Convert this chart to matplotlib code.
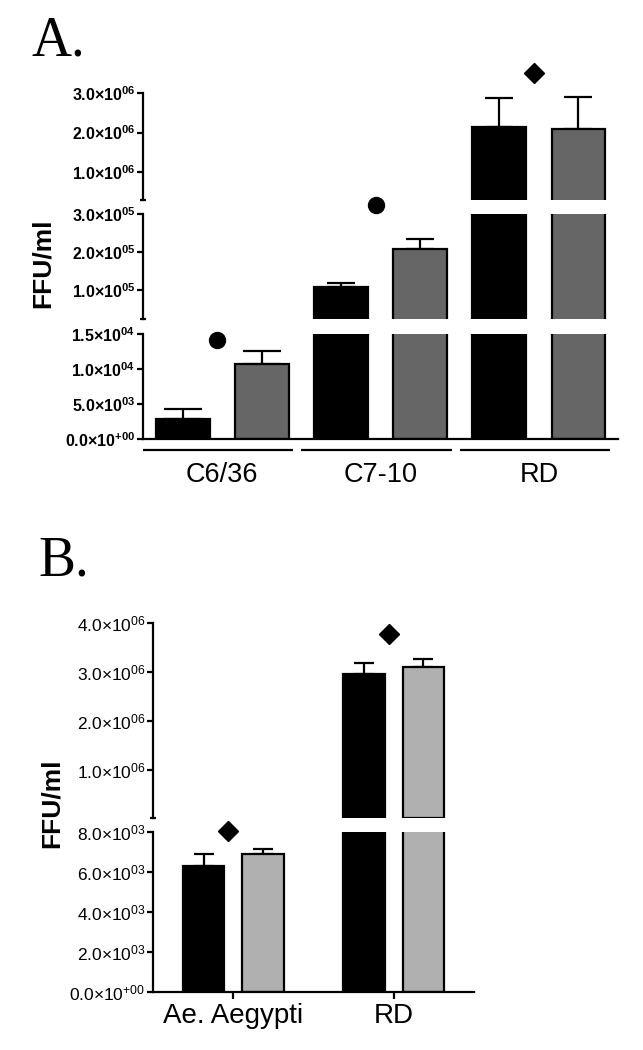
import matplotlib
matplotlib.use('Agg')
import matplotlib.pyplot as plt
import numpy as np
from matplotlib.transforms import blended_transform_factory

plt.rcParams['font.family'] = ['Liberation Sans', 'DejaVu Sans']
plt.rcParams['mathtext.fontset'] = 'custom'
plt.rcParams['mathtext.rm'] = 'Liberation Sans'
plt.rcParams['mathtext.bf'] = 'Liberation Sans:bold'
plt.rcParams['mathtext.it'] = 'Liberation Sans:italic'

# ---------------- data ----------------
# Panel A
a_cells = ['C6/36', 'C7-10', 'RD']
a_black = [2.86e3, 1.08e5, 2.14e6]
a_black_err = [1.45e3, 0.12e5, 0.73e6]
a_gray = [1.07e4, 2.08e5, 2.09e6]
a_gray_err = [0.19e4, 0.26e5, 0.81e6]
a_sig_marker = ['o', 'o', 'D']
a_sig_y = [1.42e4, 3.24e5, 3.5e6]
a_sig_seg = [0, 1, 2]
a_seg_lims = [(0, 1.5e4), (2.5e4, 3.0e5), (3.0e5, 3.0e6)]
a_seg_ticks = [[0, 5e3, 1e4, 1.5e4], [1e5, 2e5, 3e5], [1e6, 2e6, 3e6]]
a_seg_labels = [[r'$\mathbf{0.0{\times}10^{+00}}$', r'$\mathbf{5.0{\times}10^{03}}$',
                 r'$\mathbf{1.0{\times}10^{04}}$', r'$\mathbf{1.5{\times}10^{04}}$'],
                [r'$\mathbf{1.0{\times}10^{05}}$', r'$\mathbf{2.0{\times}10^{05}}$',
                 r'$\mathbf{3.0{\times}10^{05}}$'],
                [r'$\mathbf{1.0{\times}10^{06}}$', r'$\mathbf{2.0{\times}10^{06}}$',
                 r'$\mathbf{3.0{\times}10^{06}}$']]

# Panel B
b_cells = ['Ae. Aegypti', 'RD']
b_black = [6.3e3, 2.96e6]
b_black_err = [0.6e3, 0.22e6]
b_gray = [6.9e3, 3.1e6]
b_gray_err = [0.25e3, 0.17e6]
b_sig_y = [8.05e3, 3.77e6]
b_sig_seg = [0, 1]
b_seg_lims = [(0, 8e3), (8e3, 4.0e6)]
b_seg_ticks = [[0, 2e3, 4e3, 6e3, 8e3], [1e6, 2e6, 3e6, 4e6]]
b_seg_labels = [[r'$0.0{\times}10^{+00}$', r'$2.0{\times}10^{03}$', r'$4.0{\times}10^{03}$',
                 r'$6.0{\times}10^{03}$', r'$8.0{\times}10^{03}$'],
                [r'$1.0{\times}10^{06}$', r'$2.0{\times}10^{06}$', r'$3.0{\times}10^{06}$',
                 r'$4.0{\times}10^{06}$']]

# ---------------- figure ----------------
W, H = 643, 1050
fig = plt.figure(figsize=(W / 100, H / 100), dpi=100)


def add_ax(x0, x1, ytop, ybot):
    ax = fig.add_axes([x0 / W, (H - ybot) / H, (x1 - x0) / W, (ybot - ytop) / H])
    ax.patch.set_visible(False)
    return ax


LW = 1.6
BLACK = '#000000'
GRAY_A = '#666666'
GRAY_B = '#b0b0b0'


def draw_bar(ax, x, val, err, width, color, cap, lo):
    if val <= lo:
        return
    ax.bar([x], [val], width=width, color=color, edgecolor=BLACK, linewidth=LW, zorder=2)
    if val + err > lo:
        ax.errorbar([x], [val], yerr=[[0], [err]], fmt='none', ecolor=BLACK,
                    elinewidth=LW, capsize=cap, capthick=LW, zorder=1)


# ---- Panel A ----
a_px = [(334, 439), (214, 319), (93, 200)]  # bottom, middle, top segments
axesA = []
nA = len(a_cells)
xb = np.arange(nA) * 2.0
xg = xb + 1.0
capsA = [14, 10, 10]
for si, (yt, ybt) in enumerate(a_px):
    ax = add_ax(143, 618, yt, ybt)
    axesA.append(ax)
    lo = a_seg_lims[si][0]
    for i in range(nA):
        draw_bar(ax, xb[i], a_black[i], a_black_err[i], 0.68, BLACK, capsA[i], lo)
        draw_bar(ax, xg[i], a_gray[i], a_gray_err[i], 0.68, GRAY_A, capsA[i], lo)
        if a_sig_seg[i] == si:
            ax.plot(xb[i] + 0.44, a_sig_y[i], marker=a_sig_marker[i], color=BLACK,
                    markersize=11.5 if a_sig_marker[i] == 'o' else 10, linestyle='none',
                    clip_on=False, zorder=5)
    ax.set_xlim(-0.5, 5.5)
    ax.set_ylim(*a_seg_lims[si])
    ax.set_yticks(a_seg_ticks[si])
    ax.set_yticklabels(a_seg_labels[si], fontsize=11.5)
    ax.set_xticks([])
    for s in ['top', 'right']:
        ax.spines[s].set_visible(False)
    ax.spines['left'].set_linewidth(LW)
    if si == 0:
        ax.spines['bottom'].set_linewidth(LW)
    else:
        ax.spines['bottom'].set_visible(False)
        ax.plot([-0.006, 0.006], [0, 0], transform=ax.transAxes, color=BLACK,
                lw=LW, clip_on=False, solid_capstyle='butt')
    ax.tick_params(axis='y', length=4.5, width=LW, pad=1)

axA0 = axesA[0]
trA = blended_transform_factory(axA0.transData, axA0.transAxes)
for i, name in enumerate(a_cells):
    axA0.plot([xb[i] - 0.5, xb[i] + 1.4], [-0.105, -0.105], transform=trA, color=BLACK,
              lw=LW, clip_on=False, solid_capstyle='butt')
    axA0.text(xb[i] + 0.5, -0.215, name, transform=trA, ha='center', va='top', fontsize=19.5)

fig.text(43 / W, 1 - 263 / H, 'FFU/ml', rotation=90, ha='center', va='center',
         fontsize=19, fontweight='bold')
fig.text(32 / W, 1 - 55 / H, 'A.', ha='left', va='baseline', fontsize=40,
         family=['Liberation Serif', 'DejaVu Serif'])

# ---- Panel B ----
b_px = [(832, 992), (623, 818)]
axesB = []
nB = len(b_cells)
xc = np.arange(nB)
off = 0.185
for si, (yt, ybt) in enumerate(b_px):
    ax = add_ax(153, 474, yt, ybt)
    axesB.append(ax)
    lo = b_seg_lims[si][0]
    for i in range(nB):
        draw_bar(ax, xc[i] - off, b_black[i], b_black_err[i], 0.26, BLACK, 7, lo)
        draw_bar(ax, xc[i] + off, b_gray[i], b_gray_err[i], 0.26, GRAY_B, 7, lo)
        if b_sig_seg[i] == si:
            ax.plot(xc[i] - 0.03, b_sig_y[i], marker='D', color=BLACK, markersize=10,
                    linestyle='none', clip_on=False, zorder=5)
    ax.set_xlim(-0.5, 1.5)
    ax.set_ylim(*b_seg_lims[si])
    ax.set_yticks(b_seg_ticks[si])
    ax.set_yticklabels(b_seg_labels[si], fontsize=12.5)
    for s in ['top', 'right']:
        ax.spines[s].set_visible(False)
    ax.spines['left'].set_linewidth(LW)
    ax.tick_params(axis='y', length=4.5, width=LW, pad=1)
    if si == 0:
        ax.spines['bottom'].set_linewidth(LW)
        ax.set_xticks(xc)
        ax.set_xticklabels(b_cells, fontsize=20)
        ax.tick_params(axis='x', length=5, width=LW, pad=3)
    else:
        ax.set_xticks([])
        ax.spines['bottom'].set_visible(False)
        ax.plot([-0.009, 0.009], [0, 0], transform=ax.transAxes, color=BLACK,
                lw=LW, clip_on=False, solid_capstyle='butt')

fig.text(52 / W, 1 - 803 / H, 'FFU/ml', rotation=90, ha='center', va='center',
         fontsize=19, fontweight='bold')
fig.text(38 / W, 1 - 575 / H, 'B.', ha='left', va='baseline', fontsize=40,
         family=['Liberation Serif', 'DejaVu Serif'])

fig.savefig('out.png', dpi=100, facecolor='white')
